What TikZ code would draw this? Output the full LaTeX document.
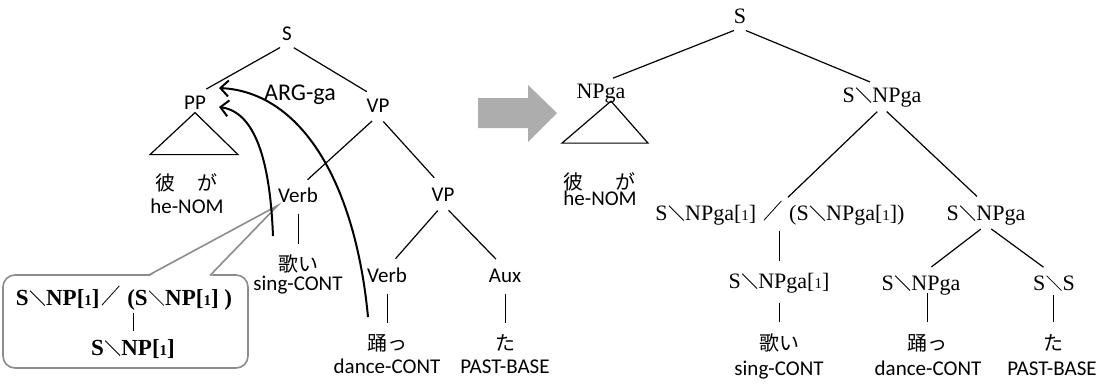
\documentclass[tikz,border=0pt]{standalone}
\usepackage{fontspec}
\setmainfont{Liberation Serif}
\setsansfont{Carlito}
\newfontfamily\jpfont{Noto Sans CJK JP}
\usetikzlibrary{arrows.meta}

% slanted slashes of the categories, and the small index
\newcommand\bsl{\kern1pt\raisebox{14.5pt}{\rotatebox{-45}{\rule{21pt}{0.8pt}}}\kern1pt}
\newcommand\fsl{\kern2pt\rotatebox{48}{\rule{26pt}{0.8pt}}\kern2pt}
\newcommand\idx{[{\fontsize{15}{15}\selectfont 1}]}

\begin{document}
\begin{tikzpicture}[x=1pt, y=-1pt, line width=1.2pt,
    lab/.style={font=\sffamily\fontsize{21}{21}\selectfont, inner sep=0pt, text height=13pt, text depth=3pt},
    cat/.style={font=\fontsize{22}{22}\selectfont, inner sep=0pt, text height=15pt, text depth=4pt},
    boxcat/.style={cat, font=\bfseries\fontsize{23}{23}\selectfont},
    word/.style={font=\jpfont\fontsize{20}{20}\selectfont, inner sep=0pt, text height=16pt, text depth=2pt},
    branch/.style={shorten <=8pt, shorten >=13pt},
    stem/.style={line width=1pt, shorten <=8pt, shorten >=10pt},
    arg/.style={line width=2pt, -{Straight Barb[length=8pt, width=16pt, line width=2pt]}},
    balloon/.style={draw=black!45, line width=1.6pt}]
    \useasboundingbox (0,0) rectangle (1105,384);

    % left tree
    \node[lab] (s) at (287,35) {S};
    \node[lab] (pp) at (195,104) {PP};
    \node[lab] (vp) at (378,107) {VP};
    \node[lab] (verb) at (298,197) {Verb};
    \node[lab] (vpb) at (443,196) {VP};
    \node[lab] (verbb) at (387,277) {Verb};
    \node[lab] (aux) at (505,277) {Aux};
    \node[word] (kare) at (186,183) {彼\hspace{22pt}が};
    \node[lab] (henom) at (187,208) {he-NOM};
    \node[word] (uta) at (298,264) {歌い};
    \node[lab] (sing) at (298,285) {sing-CONT};
    \node[word] (odo) at (387,343) {踊っ};
    \node[lab] (dance) at (387,368) {dance-CONT};
    \node[word] (ta) at (505,343) {た};
    \node[lab] (past) at (505,368) {PAST-BASE};

    \draw[branch] (s.south) -- (pp.north);
    \draw[branch] (s.south) -- (vp.north);
    \draw[branch] (vp.south) -- (verb.north);
    \draw[branch] (vp.south) -- (vpb.north);
    \draw[branch] (vpb.south) -- (verbb.north);
    \draw[branch] (vpb.south) -- (aux.north);
    \draw[stem] (verb.south) -- (uta.north);
    \draw[stem] (verbb.south) -- (odo.north);
    \draw[stem] (aux.south) -- (ta.north);
    \draw (pp.south) -- ++(-45,42) -- ++(88,0) -- cycle;

    % lexical category of the verb in a balloon
    \node[balloon, rounded corners=12pt, minimum width=245pt, minimum height=93pt, inner sep=0pt] (callout) at (125.5,321.5) {};
    \coordinate (tailL) at (148,275.5);
    \coordinate (tailR) at (210,275.5);
    \fill[white] ([yshift=-1.5pt]tailL) -- (verb.south west) -- ([yshift=-1.5pt]tailR) -- cycle;
    \draw[balloon] (tailL) -- (verb.south west) -- (tailR);
    \node[boxcat] (fnl) at (124,300) {S\bsl NP\idx\fsl\ (S\bsl NP\idx\ )};
    \node[boxcat] (resl) at (133,350) {S\bsl NP\idx};
    \draw[stem, shorten <=3pt, shorten >=8.5pt] (resl.north |- fnl.south) -- (resl.north);

    % ga-argument links
    \coordinate (utafoot) at (273,236);
    \coordinate (odofoot) at (368,317);
    \coordinate (gaone) at (219,107);
    \coordinate (gatwo) at (219,88);
    \draw[arg] (utafoot) .. controls (270,160) and (255,112) .. (gaone);
    \draw[arg] (odofoot) .. controls (355,180) and (300,92) .. (gatwo);
    \node[lab, font=\sffamily\fontsize{24}{24}\selectfont] (argga) at (300,95) {ARG-ga};

    % block arrow
    \fill[black!32] (478,98) -- (528,98) -- (528,85) -- (557,113) -- (528,142) -- (528,128) -- (478,128) -- cycle;

    % right tree
    \node[cat] (rs) at (740,18) {S};
    \node[cat] (rnp) at (601,93) {NPga};
    \node[cat] (rvp) at (882,97) {S\bsl NPga};
    \node[cat] (rfn) at (780,215) {S\bsl NPga\idx\ \fsl\ (S\bsl NPga\idx)};
    \node[cat] (rvpb) at (986,215) {S\bsl NPga};
    \node[cat] (rarg) at (779,283) {S\bsl NPga\idx};
    \node[cat] (rvpc) at (921,285) {S\bsl NPga};
    \node[cat] (rss) at (1054,285) {S\bsl S};
    \node[word] (rkare) at (599,182) {彼\hspace{32pt}が};
    \node[lab] (rhenom) at (600,200) {he-NOM};
    \node[word] (ruta) at (779,343) {歌い};
    \node[lab] (rsing) at (779,370) {sing-CONT};
    \node[word] (rodo) at (927,343) {踊っ};
    \node[lab] (rdance) at (928,370) {dance-CONT};
    \node[word] (rta) at (1053,343) {た};
    \node[lab] (rpast) at (1052,370) {PAST-BASE};

    \draw[branch, shorten <=6.5pt] (rs.south) -- (rnp.north);
    \draw[branch, shorten <=6.5pt] (rs.south) -- (rvp.north);
    \draw[branch, shorten <=6.5pt, shorten >=11pt] (rvp.south) -- (rfn.north);
    \draw[branch, shorten <=6.5pt, shorten >=12.5pt] (rvp.south) -- (rvpb.north);
    \draw[branch, shorten <=6.5pt] (rvpb.south) -- (rvpc.north);
    \draw[branch, shorten <=6.5pt] (rvpb.south) -- (rss.north);
    \draw[stem, shorten <=5.5pt, shorten >=11.5pt] (rarg.north |- rfn.south) -- (rarg.north);
    \draw[stem, shorten <=9.5pt, shorten >=11pt] (rarg.south) -- (ruta.north);
    \draw[stem, shorten <=-2pt, shorten >=11pt] (rodo.north |- rvpc.south) -- (rodo.north);
    \draw[stem, shorten <=0pt, shorten >=11pt] (rta.north |- rss.south) -- (rta.north);
    \draw ([xshift=10pt, yshift=2pt]rnp.south) -- ++(-49,42) -- ++(86,0) -- cycle;

\end{tikzpicture}
\end{document}
